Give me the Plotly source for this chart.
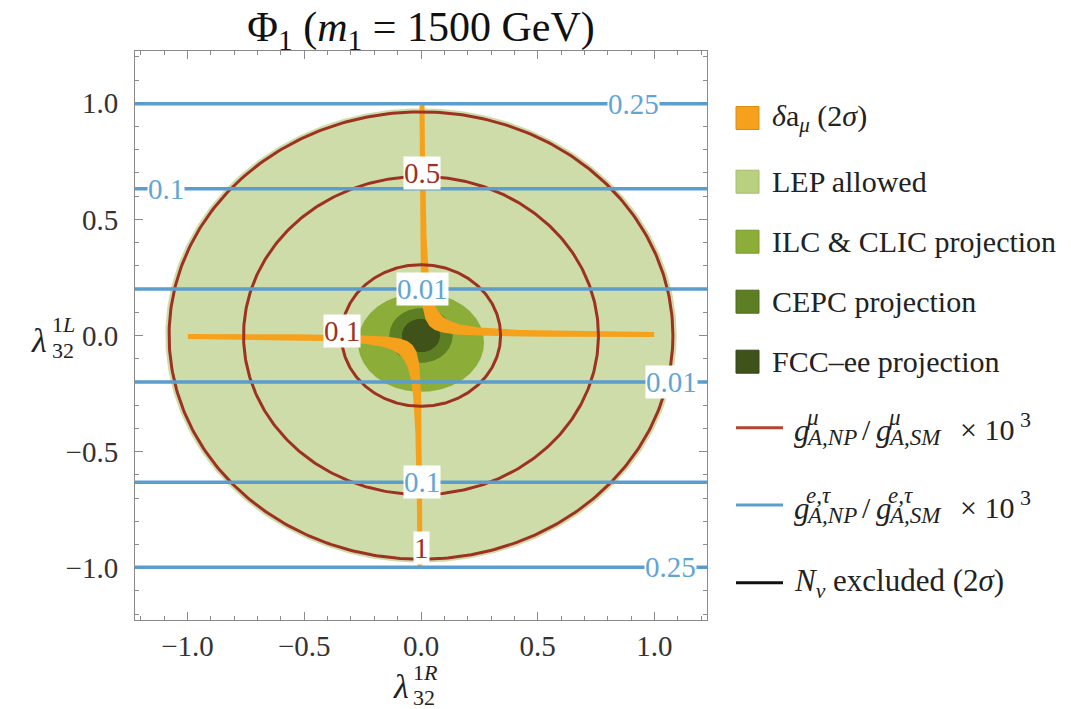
import numpy as np
import plotly.graph_objects as go

# ---------------- data ----------------
# filled regions (semi-axes in lambda units, centres)
lep_axes = [1.095, 0.978]
ilc_axes = [0.270, 0.213]
ilc_center = [0.0, -0.03]
cepc_axes = [0.136, 0.118]
fcc_axes = [0.082, 0.072]

# g_A^mu contours (red) : level labels and semi-axes
red_levels = ["0.1", "0.5", "1"]
red_rx = [0.341, 0.760, 1.079]
red_ry = [0.305, 0.685, 0.963]
red_label_x = [-0.34, 0.004, 0.0]
red_label_y = [0.02, 0.70, -0.915]

# g_A^{e,tau} contours (blue): horizontal lines at +/- y
blue_levels = ["0.01", "0.1", "0.25"]
blue_y = [0.200, 0.632, 0.998]
blue_label_text = ["0.25", "0.1", "0.01", "0.01", "0.1", "0.25"]
blue_label_x = [0.909, -1.092, 0.006, 1.071, 0.004, 1.070]
blue_label_y = [0.998, 0.632, 0.200, -0.200, -0.632, -0.998]

# delta a_mu band: lambda_R * lambda_L between these values
orange_band = [0.002, 0.0065]
orange_extent = 0.99

tick_vals = [-1.0, -0.5, 0.0, 0.5, 1.0]
tick_text = ["\u22121.0", "\u22120.5", "0.0", "0.5", "1.0"]
axis_range = [-1.225, 1.225]

# ---------------- styling ----------------
SERIF = "Liberation Serif, Times New Roman, serif"
C_LEP, C_ILC, C_CEPC, C_FCC = "#cddca9", "#8cae39", "#5e7e24", "#3e5219"
C_ORANGE = "#f6a11c"
C_RED = "#9d3221"
C_BLUE = "#5b9dcd"
C_BLUE_TXT = "#62a5d5"

W, H = 1071, 709
OFF = 8  # page body margin
ML, MT = 135 - OFF, 51 - OFF
MR, MB = W - (707 - OFF), H - (620 - OFF)
PW, PH = W - ML - MR, H - MT - MB


def xp(px):
    return (px - OFF - ML) / PW


def yp(py):
    return (H - MB - (py - OFF)) / PH


fig = go.Figure()
theta = np.linspace(0, 2 * np.pi, 400)


def ellipse(ax, center=(0.0, 0.0)):
    return center[0] + ax[0] * np.cos(theta), center[1] + ax[1] * np.sin(theta)


for ax, cen, col in [(lep_axes, (0, 0), C_LEP), (ilc_axes, ilc_center, C_ILC),
                     (cepc_axes, (0, 0), C_CEPC), (fcc_axes, (0, 0), C_FCC)]:
    ex, ey = ellipse(ax, cen)
    fig.add_trace(go.Scatter(x=ex, y=ey, mode="lines", fill="toself", fillcolor=col,
                             line=dict(width=0, color=col), hoverinfo="skip", showlegend=False))

# orange band (quadrants I and III)
lo, hi = orange_band
for sgn in (1, -1):
    xs_lo = np.geomspace(lo / orange_extent, orange_extent, 300)
    xs_hi = np.geomspace(hi / orange_extent, orange_extent, 300)[::-1]
    bx = np.concatenate([xs_lo, xs_hi])
    by = np.concatenate([lo / xs_lo, hi / xs_hi])
    bx = np.append(bx, bx[0])
    by = np.append(by, by[0])
    fig.add_trace(go.Scatter(x=sgn * bx, y=sgn * by, mode="lines", fill="toself",
                             fillcolor=C_ORANGE, line=dict(width=4, color=C_ORANGE),
                             hoverinfo="skip", showlegend=False))

# red contours
for rx, ry in zip(red_rx, red_ry):
    ex, ey = ellipse((rx, ry))
    fig.add_trace(go.Scatter(x=ex, y=ey, mode="lines", line=dict(width=3, color=C_RED),
                             hoverinfo="skip", showlegend=False))

# blue contours
for yv in blue_y:
    for s in (1, -1):
        fig.add_trace(go.Scatter(x=axis_range, y=[s * yv, s * yv], mode="lines",
                                 line=dict(width=3.5, color=C_BLUE),
                                 hoverinfo="skip", showlegend=False))

annotations = []
for t, x, y in zip(red_levels, red_label_x, red_label_y):
    annotations.append(dict(x=x, y=y, xref="x", yref="y", text=t, showarrow=False,
                            font=dict(family=SERIF, size=29, color=C_RED),
                            bgcolor="white", borderpad=0))
for t, x, y in zip(blue_label_text, blue_label_x, blue_label_y):
    annotations.append(dict(x=x, y=y, xref="x", yref="y", text=t, showarrow=False,
                            font=dict(family=SERIF, size=29, color=C_BLUE_TXT),
                            bgcolor="white", borderpad=0))


def ann_px(x, y, text, size, color="#222", xanchor="left", yanchor="middle"):
    annotations.append(dict(x=xp(x), y=yp(y), xref="paper", yref="paper", text=text,
                            showarrow=False, xanchor=xanchor, yanchor=yanchor,
                            font=dict(family=SERIF, size=size, color=color)))


# ---------------- legend (manual) ----------------
shapes = []
sq_items = [
    (118.0, C_ORANGE, "#d98b12", "<i>δ</i>a<sub><i>μ</i></sub> (2<i>σ</i>)"),
    (181.7, "#b9d081", "#a3bd6d", "LEP allowed"),
    (241.7, C_ILC, "#7a9a2e", "ILC &amp; CLIC projection"),
    (301.7, C_CEPC, "#4f6c1c", "CEPC projection"),
    (361.7, C_FCC, "#33461a", "FCC\u2013ee projection"),
]
for cy, fc, lc, txt in sq_items:
    shapes.append(dict(type="rect", xref="paper", yref="paper", x0=xp(736), x1=xp(759),
                       y0=yp(cy + 11.5), y1=yp(cy - 11.5), fillcolor=fc,
                       line=dict(color=lc, width=1)))
    ann_px(770, cy, txt, 30)

line_items = [(427.7, "#b5442f"), (505.0, C_BLUE), (582.7, "#111")]
for cy, col in line_items:
    shapes.append(dict(type="line", xref="paper", yref="paper", x0=xp(736), x1=xp(783),
                       y0=yp(cy), y1=yp(cy), line=dict(color=col, width=3)))

for cy, sup in [(427.7, "<i>μ</i>"), (505.0, "<i>e,τ</i>")]:
    ann_px(792, cy + 3, "<i>g</i>", 31)
    ann_px(804, cy - 10, sup, 23)
    ann_px(804, cy + 10, "<i>A,NP</i>", 23)
    ann_px(860, cy + 2, "/", 30)
    ann_px(874, cy + 3, "<i>g</i>", 31)
    ann_px(886, cy - 10, sup, 23)
    ann_px(886, cy + 10, "<i>A,SM</i>", 23)
    ann_px(958, cy + 2, "× 10", 30)
    ann_px(1018, cy - 8, "3", 22)

ann_px(792, 582.7, "<i>N</i><sub><i>ν</i></sub> excluded (2<i>σ</i>)", 31)

# ---------------- axis titles ----------------
ann_px(49, 340, "<i>λ</i>", 34, xanchor="right")
ann_px(50, 324, "1<i>L</i>", 22)
ann_px(50, 350, "32", 22)
ann_px(411, 686, "<i>λ</i>", 34, xanchor="right")
ann_px(411, 672, "1<i>R</i>", 22)
ann_px(411, 697, "32", 22)

axis_common = dict(range=axis_range, showgrid=False, zeroline=False, showline=True,
                   linecolor="#8a8a8a", linewidth=1, mirror="ticks", ticks="inside",
                   ticklen=8, tickwidth=1, tickcolor="#8a8a8a",
                   tickmode="array", tickvals=tick_vals, ticktext=tick_text,
                   tickfont=dict(family=SERIF, size=29, color="#333"),
                   minor=dict(ticks="inside", ticklen=4, dtick=0.1, tick0=0,
                              tickcolor="#8a8a8a", showgrid=False),
                   fixedrange=True)

fig.update_layout(
    width=W, height=H,
    margin=dict(l=ML, r=MR, t=MT, b=MB),
    paper_bgcolor="white", plot_bgcolor="white",
    showlegend=False,
    title=dict(text="Φ<sub>1</sub> (<i>m</i><sub>1</sub> = 1500 GeV)", x=0.5, xref="paper",
               xanchor="center", y=1 - 18 / H, yref="container", yanchor="middle",
               font=dict(family=SERIF, size=42, color="#111")),
    xaxis=dict(axis_common, ticklabelstandoff=0),
    yaxis=dict(axis_common, ticklabelstandoff=10),
    annotations=annotations,
    shapes=shapes,
)

fig.write_html("out.html")
